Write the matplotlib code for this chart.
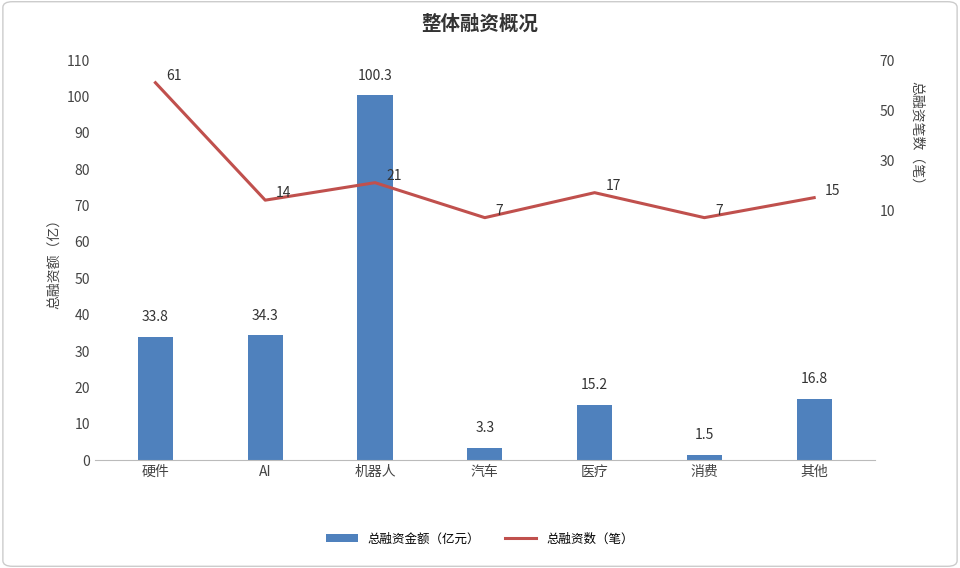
import matplotlib
matplotlib.use("Agg")
import matplotlib.pyplot as plt
from matplotlib.patches import FancyBboxPatch

plt.rcParams['font.family'] = ['Noto Sans CJK SC', 'DejaVu Sans']

categories = ["硬件", "AI", "机器人", "汽车", "医疗", "消费", "其他"]
amounts = [33.8, 34.3, 100.3, 3.3, 15.2, 1.5, 16.8]
counts = [61, 14, 21, 7, 17, 7, 15]

fig = plt.figure(figsize=(9.6, 5.68), dpi=100)
fig.patches.append(FancyBboxPatch((0.003, 0.003), 0.994, 0.994, boxstyle="round,pad=0,rounding_size=0.01",
                                  transform=fig.transFigure, fill=False, ec="#cccccc", lw=1))
ax = fig.add_axes([0.099, 0.19, 0.812, 0.704])
x = range(len(categories))
ax.bar(x, amounts, width=0.32, color="#4f81bd", label="总融资金额（亿元）")
for i, v in enumerate(amounts):
    ax.text(i, v + 3.5, f"{v}", ha="center", va="bottom", fontsize=10, color="#333333")
ax.set_ylim(0, 110)
ax.set_yticks(range(0, 111, 10))
ax.set_xlim(-0.55, 6.55)
ax.set_xticks(list(x))
ax.set_xticklabels(categories)
ax.set_ylabel("总融资额（亿）", fontsize=10, color="#444444")
for s in ["top", "right", "left"]:
    ax.spines[s].set_visible(False)
ax.spines["bottom"].set_color("#bbbbbb")
ax.tick_params(axis="both", length=0, labelsize=10, colors="#444444")

ax2 = ax.twinx()
ln, = ax2.plot(list(x), counts, color="#c0504d", lw=2.2, label="总融资数（笔）")
for i, v in enumerate(counts):
    ax2.text(i + 0.1, v, f"{v}", ha="left", va="bottom", fontsize=10, color="#333333")
ax2.set_ylim(-90, 70)
ax2.set_yticks([10, 30, 50, 70])
for s in ["top", "right", "left", "bottom"]:
    ax2.spines[s].set_visible(False)
ax2.tick_params(axis="both", length=0, labelsize=10, colors="#444444")
fig.text(0.955, 0.76, "总融资笔数（笔）", rotation=-90, ha="center", va="center",
         fontsize=10, color="#444444")

fig.suptitle("整体融资概况", y=0.975, fontsize=14, fontweight="bold", color="#333333")
h1, l1 = ax.get_legend_handles_labels()
fig.legend(h1 + [ln], l1 + [ln.get_label()], loc="lower center", bbox_to_anchor=(0.5, 0.02),
           ncol=2, frameon=False, fontsize=9, handlelength=2.5, handleheight=0.6)
fig.savefig("out.png", dpi=100)
